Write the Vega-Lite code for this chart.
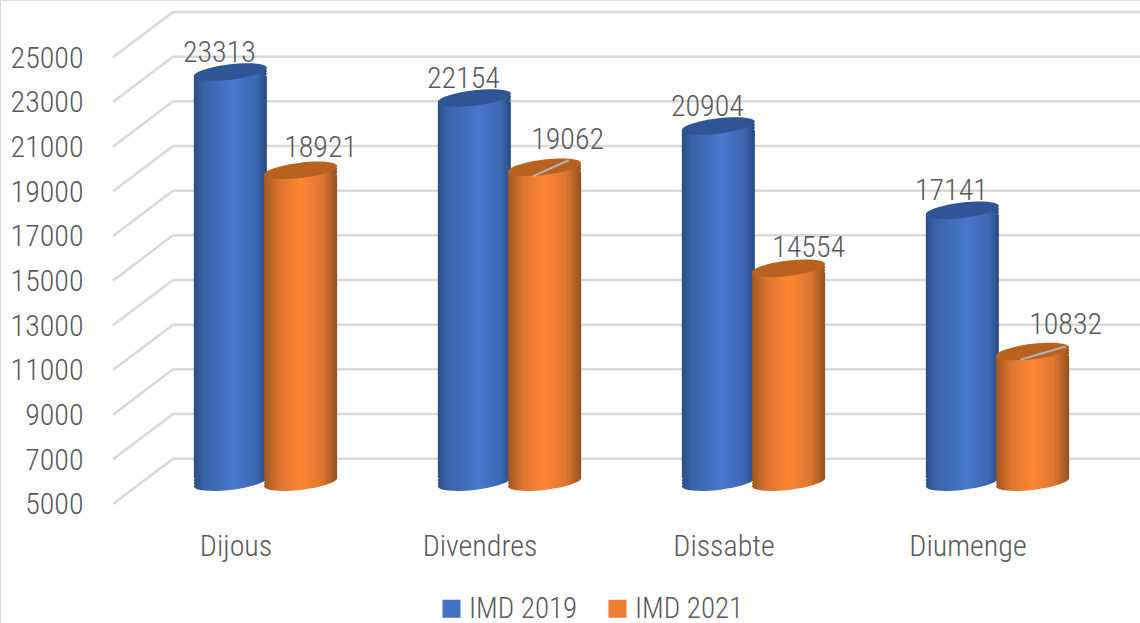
{
"$schema":"https://vega.github.io/schema/vega-lite/v6.json",
"width":1140,"height":623,"padding":0,"autosize":{"type":"none"},"background":"white",
"datasets":{
"grid":[{"tick":5000,"back":7028},{"tick":7000,"back":9028},{"tick":9000,"back":11028},{"tick":11000,"back":13028},{"tick":13000,"back":15028},{"tick":15000,"back":17028},{"tick":17000,"back":19028},{"tick":19000,"back":21028},{"tick":21000,"back":23028},{"tick":23000,"back":25028},{"tick":25000,"back":27028}],
"bars":[
{"dia":"Dijous","serie":"IMD 2019","valor":23313},{"dia":"Dijous","serie":"IMD 2021","valor":18921},
{"dia":"Divendres","serie":"IMD 2019","valor":22154},{"dia":"Divendres","serie":"IMD 2021","valor":19062},
{"dia":"Dissabte","serie":"IMD 2019","valor":20904},{"dia":"Dissabte","serie":"IMD 2021","valor":14554},
{"dia":"Diumenge","serie":"IMD 2019","valor":17141},{"dia":"Diumenge","serie":"IMD 2021","valor":10832}]
},
"resolve":{"scale":{"x":"independent","y":"independent"},"axis":{"x":"independent","y":"independent"}},
"layer":[
{"data":{"name":"bars"},
 "mark":{"type":"point","filled":true,"size":0,"opacity":1},
 "encoding":{"color":{"field":"serie","type":"nominal","scale":{"domain":["IMD 2019","IMD 2021"],"range":["#4472c4","#ed7d31"]},
  "legend":{"orient":"none","legendX":437,"legendY":594,"direction":"horizontal","title":null,"symbolType":"square","symbolSize":324,"symbolStrokeWidth":0,"symbolOpacity":1,"labelFont":"Roboto Condensed, Roboto","labelFontWeight":300,"labelFontSize":29,"labelColor":"#595959","labelOffset":3,"columnPadding":25,"padding":0}}}
},
{"data":{"name":"grid"},
 "encoding":{"y":{"field":"tick","type":"quantitative","scale":{"domain":[-328,27565],"nice":false,"zero":false},
   "axis":{"values":[5000,7000,9000,11000,13000,15000,17000,19000,21000,23000,25000],"orient":"left","offset":-83,"domain":false,"ticks":false,"grid":false,"title":null,"format":"d","labelPadding":0,"labelOffset":1,"labelFont":"Roboto Condensed, Roboto","labelFontWeight":300,"labelFontSize":30,"labelColor":"#595959"}}},
 "layer":[
  {"mark":{"type":"rule","color":"#d9d9d9","strokeWidth":2.5},
   "encoding":{"x":{"datum":0,"type":"quantitative","scale":{"domain":[-0.463,4.209],"nice":false,"zero":false},"axis":null},"x2":{"datum":0.246},"y2":{"field":"back"}}},
  {"mark":{"type":"rule","color":"#d9d9d9","strokeWidth":2.5},
   "encoding":{"x":{"datum":0.246,"type":"quantitative","scale":{"domain":[-0.463,4.209],"nice":false,"zero":false},"axis":null},"x2":{"datum":4.209},"y":{"field":"back","type":"quantitative"}}}
 ]},
{"data":{"name":"bars"},
 "encoding":{
  "x":{"field":"dia","type":"nominal","sort":null,"scale":{"range":[113,1089],"paddingInner":0,"paddingOuter":0},
    "axis":{"orient":"bottom","offset":-92,"domain":false,"ticks":false,"grid":false,"title":null,"labelAngle":0,"labelPadding":0,"labelOffset":1,"labelFont":"Roboto Condensed, Roboto","labelFontWeight":300,"labelFontSize":30,"labelColor":"#595959"}},
  "xOffset":{"field":"serie","type":"nominal","scale":{"domain":["IMD 2019","IMD 2021"],"range":[82.25,222.75],"paddingInner":0,"paddingOuter":0}},
  "y":{"field":"valor","type":"quantitative","scale":{"domain":[-1285,26527],"nice":false,"zero":false},"axis":null},
  "fill":{"condition":{"test":"datum.serie==='IMD 2019'","value":{"gradient":"linear","x1":0,"y1":0,"x2":1,"y2":0,"stops":[{"offset":0,"color":"#2a4d85"},{"offset":0.15,"color":"#3a64ab"},{"offset":0.55,"color":"#4778cc"},{"offset":0.85,"color":"#3d68b3"},{"offset":1,"color":"#274a82"}]}},
    "value":{"gradient":"linear","x1":0,"y1":0,"x2":1,"y2":0,"stops":[{"offset":0,"color":"#a0561f"},{"offset":0.2,"color":"#dc7530"},{"offset":0.5,"color":"#ff8533"},{"offset":0.8,"color":"#dd7530"},{"offset":1,"color":"#94501e"}]}}
 },
 "layer":[
  {"mark":{"type":"point","filled":true,"opacity":1,"strokeWidth":0,"size":5329,"shape":"M1 -.114 C1 .0025 .552 .148 0 .211 C-.552 .274 -1 .2305 -1 .114 C-1 -.0025 -.552 -.148 0 -.211 C.552 -.274 1 -.2305 1 -.114 Z"},"encoding":{"y":{"datum":5000,"type":"quantitative"}}},
  {"mark":{"type":"point","filled":true,"opacity":1,"strokeWidth":0,"size":5329,"yOffset":-3,"shape":"M1 -.114 C1 .0025 .552 .148 0 .211 C-.552 .274 -1 .2305 -1 .114 C-1 -.0025 -.552 -.148 0 -.211 C.552 -.274 1 -.2305 1 -.114 Z"},"encoding":{"y":{"datum":5000,"type":"quantitative"}}},
  {"mark":{"type":"point","filled":true,"opacity":1,"strokeWidth":0,"size":5329,"yOffset":-6,"shape":"M1 -.114 C1 .0025 .552 .148 0 .211 C-.552 .274 -1 .2305 -1 .114 C-1 -.0025 -.552 -.148 0 -.211 C.552 -.274 1 -.2305 1 -.114 Z"},"encoding":{"y":{"datum":5000,"type":"quantitative"}}},
  {"mark":{"type":"bar","width":73,"yOffset":4,"y2Offset":-4},"encoding":{"y2":{"datum":5000}}},
  {"mark":{"type":"point","filled":true,"opacity":1,"strokeWidth":0,"size":5329,"yOffset":3,"shape":"M1 -.114 C1 .0025 .552 .148 0 .211 C-.552 .274 -1 .2305 -1 .114 C-1 -.0025 -.552 -.148 0 -.211 C.552 -.274 1 -.2305 1 -.114 Z"}},
  {"mark":{"type":"point","filled":true,"opacity":1,"strokeWidth":0,"size":5329,"yOffset":6,"shape":"M1 -.114 C1 .0025 .552 .148 0 .211 C-.552 .274 -1 .2305 -1 .114 C-1 -.0025 -.552 -.148 0 -.211 C.552 -.274 1 -.2305 1 -.114 Z"}},
  {"mark":{"type":"point","filled":true,"opacity":1,"strokeWidth":0,"size":5329,"shape":"M1 -.114 C1 .0025 .552 .148 0 .211 C-.552 .274 -1 .2305 -1 .114 C-1 -.0025 -.552 -.148 0 -.211 C.552 -.274 1 -.2305 1 -.114 Z"},
   "encoding":{"fill":{"condition":{"test":"datum.serie==='IMD 2019'","value":"#2f5597"},"value":"#b9621f"}}},
  {"transform":[{"filter":"datum.valor===19062"}],
   "mark":{"type":"point","filled":false,"opacity":1,"size":5329,"strokeWidth":2,"shape":"M-.33 .25 L.66 -.19"},
   "encoding":{"fill":{"value":null},"stroke":{"value":"#b3b3b3"}}},
  {"transform":[{"filter":"datum.valor===10832"}],
   "mark":{"type":"point","filled":false,"opacity":1,"size":5329,"strokeWidth":2,"shape":"M-.33 .22 L.9 -.14"},
   "encoding":{"fill":{"value":null},"stroke":{"value":"#b3b3b3"}}},
  {"transform":[{"filter":"datum.serie==='IMD 2019'"}],
   "mark":{"type":"text","font":"Roboto Condensed, Roboto","fontWeight":300,"fontSize":30,"dx":-11,"dy":-19},
   "encoding":{"text":{"field":"valor","type":"quantitative","format":"d"},"fill":{"value":"#595959"}}},
  {"transform":[{"filter":"datum.valor===18921"}],
   "mark":{"type":"text","font":"Roboto Condensed, Roboto","fontWeight":300,"fontSize":30,"dx":20,"dy":-22},
   "encoding":{"text":{"field":"valor","type":"quantitative","format":"d"},"fill":{"value":"#595959"}}},
  {"transform":[{"filter":"datum.valor===14554"}],
   "mark":{"type":"text","font":"Roboto Condensed, Roboto","fontWeight":300,"fontSize":30,"dx":20,"dy":-20},
   "encoding":{"text":{"field":"valor","type":"quantitative","format":"d"},"fill":{"value":"#595959"}}},
  {"transform":[{"filter":"datum.valor===19062"}],
   "mark":{"type":"text","font":"Roboto Condensed, Roboto","fontWeight":300,"fontSize":30,"dx":23,"dy":-27},
   "encoding":{"text":{"field":"valor","type":"quantitative","format":"d"},"fill":{"value":"#595959"}}},
  {"transform":[{"filter":"datum.valor===10832"}],
   "mark":{"type":"text","font":"Roboto Condensed, Roboto","fontWeight":300,"fontSize":30,"dx":33,"dy":-27},
   "encoding":{"text":{"field":"valor","type":"quantitative","format":"d"},"fill":{"value":"#595959"}}}
 ]}
]
}
